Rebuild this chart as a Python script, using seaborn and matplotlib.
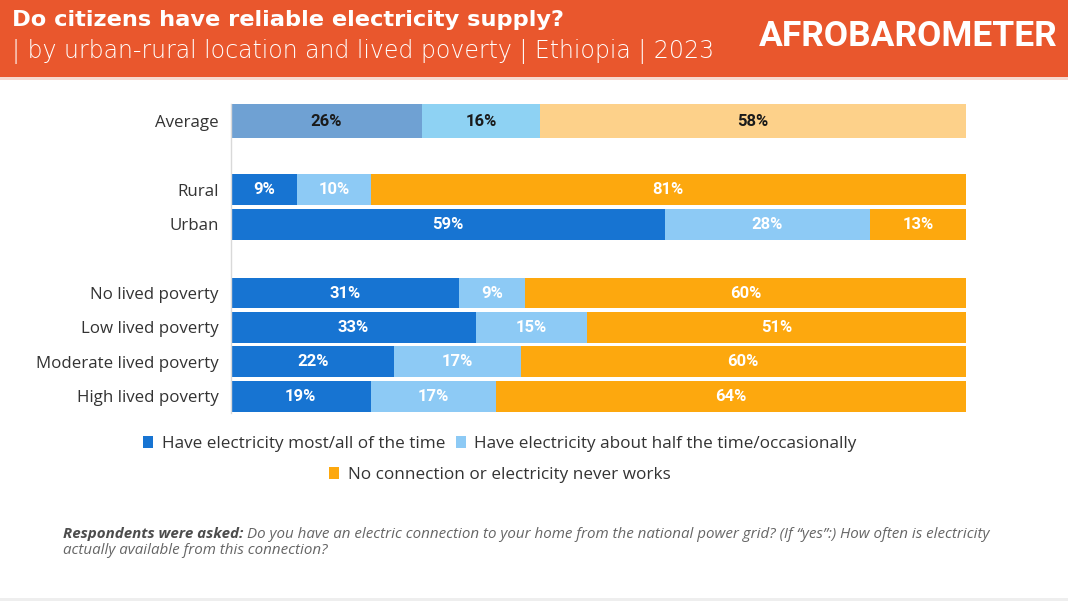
import matplotlib
matplotlib.use("Agg")
import matplotlib.pyplot as plt
from matplotlib.patches import Rectangle, Patch
import numpy as np
import pandas as pd
import seaborn as sns

rows = ["Average", "Rural", "Urban", "No lived poverty", "Low lived poverty",
        "Moderate lived poverty", "High lived poverty"]
most = [26, 9, 59, 31, 33, 22, 19]
half = [16, 10, 28, 9, 15, 17, 17]
never = [58, 81, 13, 60, 51, 60, 64]
series_names = ["Have electricity most/all of the time",
                "Have electricity about half the time/occasionally",
                "No connection or electricity never works"]

title = "Do citizens have reliable electricity supply?"
subtitle = "| by urban-rural location and lived poverty | Ethiopia | 2023"
note_bold = "Respondents were asked:"
note_1 = ("Do you have an electric connection to your home from the national power grid? "
          "(If \u201cyes\u201d:) How often is electricity")
note_2 = "actually available from this connection?"

# category slots, blanks give the gaps between groups
order = ["Average", "", "Rural", "Urban", " ", "No lived poverty", "Low lived poverty",
         "Moderate lived poverty", "High lived poverty"]

main_colors = ["#1774D2", "#8DCAF5", "#FDA80E"]
avg_colors = ["#6FA1D3", "#8ED2F3", "#FDD18A"]
ORANGE = "#E9572D"

sns.set_theme(style="white")
plt.rcParams["font.family"] = ["Open Sans", "DejaVu Sans"]

df = pd.DataFrame({"row": rows, "most": most, "half": half, "never": never})
tot = df[["most", "half", "never"]].sum(axis=1)
for c in ["most", "half", "never"]:
    df[c + "_n"] = df[c] / tot * 100
df["c1"] = df["most_n"]
df["c2"] = df["most_n"] + df["half_n"]
df["c3"] = df["c2"] + df["never_n"]

fig = plt.figure(figsize=(10.68, 6.01), dpi=100)
fig.patch.set_facecolor("white")
ax = fig.add_axes([231 / 1068, 1 - 413.4 / 601, 735 / 1068, 309.6 / 601])

avg = df[df["row"] == "Average"]
rest = df[df["row"] != "Average"]
for col, k in [("c3", 2), ("c2", 1), ("c1", 0)]:
    sns.barplot(data=avg, x=col, y="row", order=order, color=avg_colors[k],
                width=0.99, saturation=1, orient="h", linewidth=0, ax=ax)
    sns.barplot(data=rest, x=col, y="row", order=order, color=main_colors[k],
                width=0.9, saturation=1, orient="h", linewidth=0, ax=ax)

# value labels
for _, r in df.iterrows():
    y = order.index(r["row"])
    lefts = [0, r["c1"], r["c2"]]
    widths = [r["most_n"], r["half_n"], r["never_n"]]
    vals = [r["most"], r["half"], r["never"]]
    tc = "#1a1a1a" if r["row"] == "Average" else "white"
    for l, w, v in zip(lefts, widths, vals):
        ax.text(l + w / 2, y, f"{v}%", ha="center", va="center", color=tc,
                fontsize=12, fontweight="bold", family=["Roboto", "DejaVu Sans"])

ax.set_xlim(0, 100)
ax.set_ylim(8.5, -0.5)
ax.set_xlabel("")
ax.set_ylabel("")
ax.set_xticks([])
ax.tick_params(axis="y", length=0, pad=9, labelsize=12.2, labelcolor="#333333")
for s in ["top", "right", "bottom"]:
    ax.spines[s].set_visible(False)
ax.spines["left"].set_color("#d9d9d9")
ax.spines["left"].set_linewidth(1)

# header band
fig.add_artist(Rectangle((0, 1 - 77 / 601), 1, 77 / 601, transform=fig.transFigure,
                         facecolor=ORANGE, edgecolor="none"))
fig.add_artist(Rectangle((0, 1 - 80 / 601), 1, 3 / 601, transform=fig.transFigure,
                         facecolor="#F6D9CF", edgecolor="none"))
fig.text(12 / 1068, 1 - 20 / 601, title, color="white", fontsize=16.2, fontweight="bold",
         va="center", ha="left", family=["DejaVu Sans"])
fig.text(12 / 1068, 1 - 52 / 601, subtitle, color="white", fontsize=17, fontweight="light",
         va="center", ha="left", family=["DejaVu Sans"])
fig.text(1057 / 1068, 1 - 37 / 601, "AFROBAROMETER", color="white", fontsize=25.5,
         fontweight="bold", va="center", ha="right", family=["Roboto", "DejaVu Sans"])

# legends
handles = [Patch(facecolor=c, edgecolor="none") for c in main_colors]
leg1 = fig.legend(handles[:2], series_names[:2], loc="center", ncol=2, frameon=False,
                  bbox_to_anchor=(500 / 1068, 1 - 444 / 601), fontsize=12.3,
                  handlelength=0.6, handleheight=0.7, handletextpad=0.5, columnspacing=0.6)
leg2 = fig.legend(handles[2:], series_names[2:], loc="center", frameon=False,
                  bbox_to_anchor=(500 / 1068, 1 - 475 / 601), fontsize=12.3,
                  handlelength=0.6, handleheight=0.7, handletextpad=0.5)
for lg in (leg1, leg2):
    for t in lg.get_texts():
        t.set_color("#333333")

# footnote
fig.canvas.draw()
t1 = fig.text(63 / 1068, 1 - 534 / 601, note_bold, fontsize=10.9, fontweight="bold",
              style="italic", color="#4d4d4d", va="center", ha="left")
fig.canvas.draw()
bb = t1.get_window_extent()
fig.text((bb.x1 + 4) / fig.bbox.width, 1 - 534 / 601, note_1, fontsize=10.9,
         style="italic", color="#666666", va="center", ha="left")
fig.text(63 / 1068, 1 - 550 / 601, note_2, fontsize=10.9, style="italic",
         color="#666666", va="center", ha="left")

fig.add_artist(Rectangle((0, 0), 1, 3 / 601, transform=fig.transFigure,
                         facecolor="#eeeeee", edgecolor="none"))

fig.savefig("out.png", dpi=100)
